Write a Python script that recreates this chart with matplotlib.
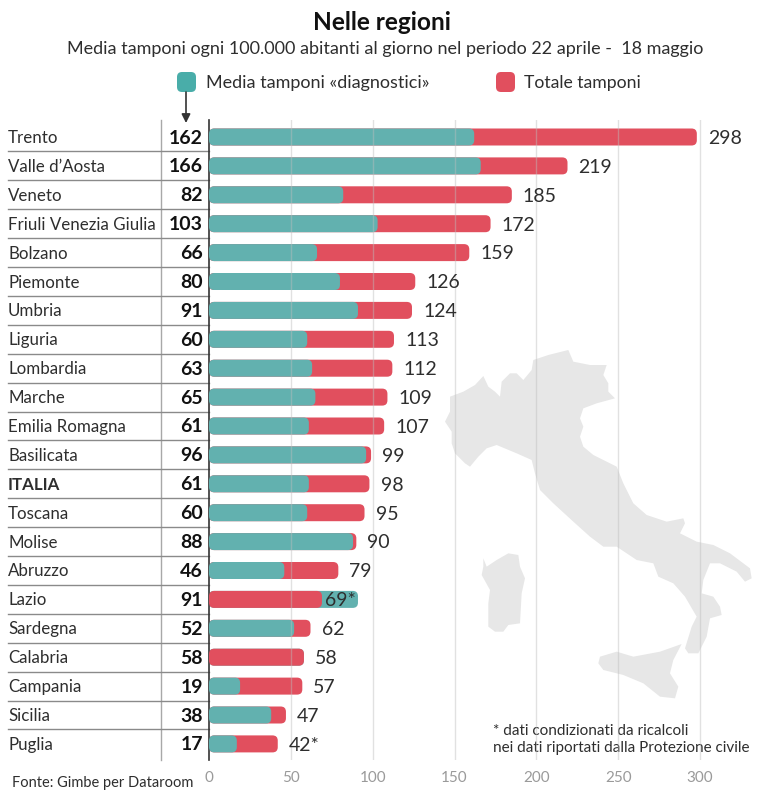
import matplotlib
matplotlib.use("Agg")
import matplotlib.pyplot as plt
from matplotlib.patches import FancyBboxPatch, Polygon

plt.rcParams['font.family'] = ['Lato', 'DejaVu Sans']

regions = ["Trento", "Valle d’Aosta", "Veneto", "Friuli Venezia Giulia", "Bolzano", "Piemonte",
           "Umbria", "Liguria", "Lombardia", "Marche", "Emilia Romagna", "Basilicata", "ITALIA",
           "Toscana", "Molise", "Abruzzo", "Lazio", "Sardegna", "Calabria", "Campania", "Sicilia", "Puglia"]
diagnostici = [162, 166, 82, 103, 66, 80, 91, 60, 63, 65, 61, 96, 61, 60, 88, 46, 91, 52, 58, 19, 38, 17]
totale = [298, 219, 185, 172, 159, 126, 124, 113, 112, 109, 107, 99, 98, 95, 90, 79, 69, 62, 58, 57, 47, 42]
total_labels = ["298", "219", "185", "172", "159", "126", "124", "113", "112", "109", "107", "99", "98",
                "95", "90", "79", "69*", "62", "58", "57", "47", "42*"]
x_ticks = [0, 50, 100, 150, 200, 250, 300]

# map background, pixel coords
mainland = [(75,245),(90,215),(90,170),(130,155),(165,135),(190,108),(205,140),(225,155),(240,170),(245,125),
            (270,100),(290,100),(310,120),(335,90),(340,60),(385,45),(445,30),(460,65),(510,75),(560,75),
            (550,105),(565,130),(565,155),(585,175),(530,190),(490,205),(480,235),(490,260),(480,290),(490,320),
            (520,345),(590,380),(610,430),(640,490),(680,525),(740,545),(790,535),(795,550),(780,580),(830,605),
            (880,615),(930,640),(990,685),(995,715),(975,725),(950,695),(900,670),(870,670),(850,720),(845,760),
            (880,770),(900,800),(905,825),(870,835),(860,890),(835,940),(805,940),(795,925),(815,860),(830,830),
            (795,770),(760,730),(715,710),(700,670),(650,660),(620,640),(590,620),(550,620),(510,590),(460,545),
            (400,490),(360,450),(345,400),(335,360),(290,340),(230,315),(200,325),(175,350),(150,380),(135,370),
            (105,340),(95,310),(95,275)]
sardegna = [(190,655),(200,680),(230,660),(265,640),(295,645),(300,680),(315,715),(305,760),(300,850),(265,855),
            (250,875),(225,875),(205,860),(205,790),(210,750),(185,705),(190,680)]
sicilia = [(540,950),(590,935),(640,950),(720,935),(785,912),(760,960),(750,1000),(775,1040),(765,1075),(720,1070),
           (670,1030),(610,1005),(550,990),(535,970)]

TEAL = "#62B1AF"
RED = "#E14F5E"
DARK = "#2E2E2E"

fig = plt.figure(figsize=(7.69, 8.0), dpi=100)

# full figure axes in pixels for the decoration
bg = fig.add_axes([0, 0, 1, 1])
bg.set_xlim(0, 769)
bg.set_ylim(800, 0)
bg.axis("off")

for shape in [mainland, sardegna, sicilia]:
    pts = [(420 + x / 3, 340 + y / 3) for x, y in shape]
    bg.add_patch(Polygon(pts, closed=True, fc="#E7E7E7", ec="none"))

bg.text(382, 23, "Nelle regioni", ha="center", va="center", fontsize=17.6, fontweight="bold", color="#111111")
bg.text(385, 49, "Media tamponi ogni 100.000 abitanti al giorno nel periodo 22 aprile -  18 maggio",
        ha="center", va="center", fontsize=13, color=DARK)

bg.add_patch(FancyBboxPatch((177, 72), 19, 20, boxstyle="round,pad=0,rounding_size=5", fc="#49ADA9", ec="none"))
bg.add_patch(FancyBboxPatch((496, 72), 19, 20, boxstyle="round,pad=0,rounding_size=5", fc=RED, ec="none"))
bg.text(206, 83, "Media tamponi «diagnostici»", va="center", fontsize=13, color=DARK)
bg.text(524, 83, "Totale tamponi", va="center", fontsize=12.7, color=DARK)
bg.annotate("", xy=(186, 123), xytext=(186, 92),
            arrowprops=dict(arrowstyle="-|>", color="#333333", lw=1.2, mutation_scale=13, shrinkA=0, shrinkB=0))

bg.text(12, 783, "Fonte: Gimbe per Dataroom", va="center", fontsize=10.5, color=DARK)
bg.text(493, 731, "* dati condizionati da ricalcoli", va="center", fontsize=11, color=DARK)
bg.text(493, 748, "nei dati riportati dalla Protezione civile", va="center", fontsize=11, color=DARK)

bg.plot([161, 161], [120, 760], color="#A8A8A8", lw=1)
for i in range(len(regions) - 1):
    y = 137 + 28.9 * (i + 0.5)
    bg.plot([8, 209], [y, y], color="#8A8A8A", lw=1)

# chart axes, x from 209 to 740 px, y rows from 120 to 760 px
ax = fig.add_axes([209 / 769, 1 - 760 / 800, 531 / 769, 640 / 800])
ax.patch.set_alpha(0)
ax.set_xlim(0, 531 / 1.637)
ax.set_ylim((760 - 137) / 28.9, (120 - 137) / 28.9)
for s in ["top", "right", "bottom"]:
    ax.spines[s].set_visible(False)
ax.spines["left"].set_color("#333333")
ax.spines["left"].set_linewidth(1.2)
ax.set_yticks([])
ax.set_xticks(x_ticks)
ax.tick_params(axis="x", length=0, labelsize=11, labelcolor="#9A9A9A", pad=8)
aspect = 1.637 / 28.9

def rounded_bar(row, value, color, zorder):
    ax.add_patch(FancyBboxPatch((0, row - 8.5 / 28.9), value, 17 / 28.9,
                                boxstyle="round,pad=0,rounding_size=3.2", mutation_aspect=aspect,
                                fc=color, ec="none", zorder=zorder))

for i, name in enumerate(regions):
    if totale[i] > diagnostici[i]:
        rounded_bar(i, totale[i], RED, 2)
        rounded_bar(i, diagnostici[i], TEAL, 3)
    else:
        rounded_bar(i, diagnostici[i], TEAL, 2)
        rounded_bar(i, totale[i], RED, 3)
    off = 2 if name == "Lazio" else 8
    ax.annotate(total_labels[i], xy=(totale[i], i), xytext=(off, -1), textcoords="offset points",
                va="center", fontsize=14, color=DARK, zorder=5)
    y_px = 138 + 28.9 * i
    bold = "bold" if name == "ITALIA" else "normal"
    bg.text(8, y_px, name, va="center", fontsize=12.2, fontweight=bold, color=DARK)
    bg.text(203, y_px, str(diagnostici[i]), va="center", ha="right", fontsize=14, fontweight="bold", color="#111111")

for t in x_ticks[1:]:
    ax.axvline(t, color="#BDBDBD", lw=1, alpha=0.45, zorder=4)

fig.savefig("out.png", dpi=100)
